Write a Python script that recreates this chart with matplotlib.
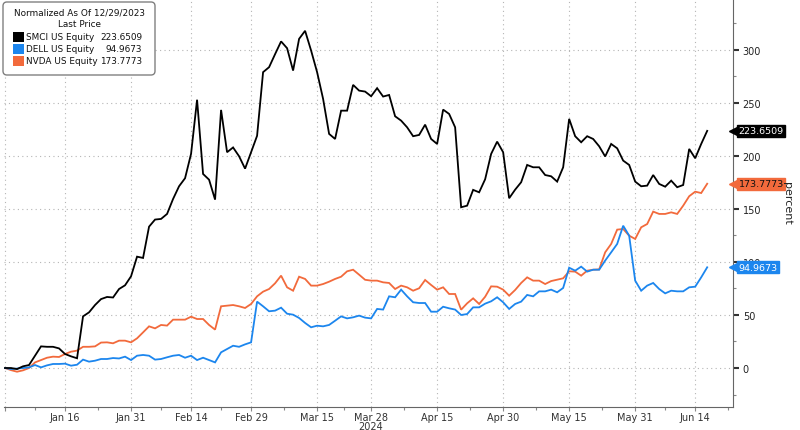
import numpy as np
import pandas as pd
import matplotlib
matplotlib.use('Agg')
import matplotlib.pyplot as plt
import matplotlib.transforms as mtransforms
from matplotlib.patches import FancyBboxPatch, Rectangle
from matplotlib.ticker import MultipleLocator, FixedLocator

# Trading days Dec 29 2023 - Jun 18 2024 (exchange holidays removed)
holidays = ['2024-01-01', '2024-01-15', '2024-02-19', '2024-03-29', '2024-05-27', '2024-06-19']
dates = pd.bdate_range('2023-12-29', '2024-06-18', freq='C', holidays=holidays)

# Normalized price, percent change vs 12/29/2023
smci = [0, 0, -1, 1.6, 2.8, 11.6, 20.4, 20, 20, 18.5,
        13.2, 11, 9.2, 48.7, 52.5, 59.4, 65, 67, 66.5, 74.5,
        78, 86.5, 105, 103.8, 133.3, 140, 140.6, 145.3, 159.4, 171.4,
        179, 202, 253, 183, 177.6, 158.8, 243.4, 203.5, 208, 199.7,
        188, 203.5, 219, 279, 283.7, 296, 308, 301.6, 280.5, 310.4,
        318, 299.4, 279, 253.8, 220.8, 216, 242.7, 242.7, 267, 261.6,
        260.7, 256.3, 263.9, 256, 257.5, 237.4, 233.3, 227, 218.6, 219.8,
        229.5, 216, 211.3, 243.7, 239.6, 227, 151.6, 153.1, 168, 165.7,
        178, 201.9, 213.5, 203.5, 160.1, 168.2, 175.2, 191.5, 189.3, 189.3,
        182, 180.8, 175.8, 189.3, 234.9, 218.6, 212.9, 218.6, 216, 209.1,
        199.5, 211.3, 207.2, 195.6, 191.5, 175.8, 171.4, 172, 182, 173.6,
        171, 176.7, 170.5, 172.6, 206.6, 197.8, 211.3, 223.6509]

dell = [0, -1, -0.5, 0, 0.6, 2.8, 0.6, 2.5, 3.8, 3.8,
        4.1, 2.2, 3.1, 7.9, 6, 6.9, 8.5, 8.5, 9.4, 9,
        10.7, 7.5, 11.6, 12.3, 11.6, 7.9, 8.5, 10.1, 11.6, 12.3,
        9.7, 11.6, 7.5, 9.7, 7.5, 5.3, 14.8, 17.9, 21, 20,
        22.3, 24.2, 62.6, 58.2, 53.5, 54.1, 56.9, 51.2, 50.3, 47.2,
        42.5, 38.4, 39.9, 39.3, 40.6, 44.6, 48.7, 46.8, 47.8, 49.4,
        47.5, 46.8, 55.7, 55.1, 67.6, 66.7, 73.9, 67.6, 62, 61.3,
        61.3, 53.1, 53.1, 57.8, 56.3, 55.1, 50, 50.9, 57.2, 57.2,
        60.7, 62.9, 66.7, 62, 55.7, 60.4, 62.6, 68.9, 67.6, 72.3,
        72.3, 73.9, 71.4, 75.5, 94.6, 91.8, 95.6, 90.9, 92.7, 92.7,
        101.3, 109.1, 117, 134.2, 124.8, 82.4, 72.9, 77.7, 80.2, 74.5,
        70.4, 72.9, 72.3, 72.3, 76.1, 76.7, 85.5, 94.9673]

nvda = [0, -2, -3.5, -2.2, 0, 5.3, 7.5, 9.7, 10.7, 10.4,
        13.2, 15.4, 16.4, 20, 20, 20.4, 24, 24.2, 23.3, 25.8,
        25.8, 24.2, 28, 33.6, 39.3, 37.4, 40.6, 40, 45.6, 45.6,
        45.6, 48.4, 46.2, 46.2, 40.6, 36.2, 58.2, 58.8, 59.4, 58.2,
        56.6, 60.4, 67.6, 72, 74.5, 79.9, 87.1, 76.1, 72.9, 86.1,
        84, 77.7, 77.7, 79.2, 81.4, 84, 86.1, 91.2, 92.7, 88,
        83.2, 82.4, 82.4, 80.8, 80.2, 74.5, 77.7, 76.1, 72.9, 75.2,
        83, 78.3, 73.9, 76.1, 69.8, 69.8, 55, 61, 65.7, 60.4,
        67.2, 77, 76.7, 73.9, 68.2, 73.6, 80.2, 85.5, 82.4, 82.4,
        79.2, 82, 83.3, 84.6, 91.2, 90.9, 87.1, 91.8, 92.7, 93,
        109.1, 117, 130.5, 131.1, 124.8, 121.7, 132.7, 135.8, 147.5, 145.3,
        145.3, 146.8, 145.3, 153.1, 162, 166.3, 165, 173.7773]

names = ['SMCI US Equity', 'DELL US Equity', 'NVDA US Equity']
colors = ['#000000', '#1c86ee', '#f26a3c']
tag_text_colors = ['white', 'white', '#111111']

tick_dates = ['2023-12-29', '2024-01-16', '2024-01-31', '2024-02-14', '2024-02-29', '2024-03-15',
              '2024-03-28', '2024-04-15', '2024-04-30', '2024-05-15', '2024-05-31', '2024-06-14']
tick_labels = ['', 'Jan 16', 'Jan 31', 'Feb 14', 'Feb 29', 'Mar 15',
               'Mar 28', 'Apr 15', 'Apr 30', 'May 15', 'May 31', 'Jun 14']

W, H = 800, 431
fig = plt.figure(figsize=(W / 100, H / 100), dpi=100)
ax = fig.add_axes([4 / W, 1 - 407.5 / H, 729 / W, 407.5 / H])

x = np.arange(len(dates))
series = [smci, dell, nvda]
# draw NVDA first, SMCI on top
for vals, c in zip(series[::-1], colors[::-1]):
    ax.plot(x, vals, color=c, lw=1.3, solid_joinstyle='miter')

ax.set_xlim(-0.17, 121.3)
ax.set_ylim(-36.3, 348)

# x axis in trading-day positions
tick_pos = [dates.get_loc(pd.Timestamp(d)) for d in tick_dates]
ax.xaxis.set_major_locator(FixedLocator(tick_pos))
ax.set_xticklabels(tick_labels)
minor_pos = [(a + b) / 2 for a, b in zip(tick_pos[:-1], tick_pos[1:])] + [tick_pos[-1] + 5.5]
ax.xaxis.set_minor_locator(FixedLocator(minor_pos))

ax.yaxis.tick_right()
ax.yaxis.set_major_locator(FixedLocator(range(0, 301, 50)))
ax.yaxis.set_minor_locator(MultipleLocator(25))

for side in ['left', 'top']:
    ax.spines[side].set_visible(False)
for side in ['right', 'bottom']:
    ax.spines[side].set_color('#666666')
    ax.spines[side].set_linewidth(0.8)

ax.tick_params(axis='x', which='major', direction='out', length=3, width=0.8,
               color='#888888', labelsize=7, labelcolor='#333333', pad=1)
ax.tick_params(axis='x', which='minor', direction='out', length=2, width=0.8, color='#888888')
ax.tick_params(axis='y', which='major', direction='out', length=4, width=1.5,
               color='#333333', labelsize=7, labelcolor='#222222', pad=3)
ax.tick_params(axis='y', which='minor', direction='out', length=2.5, width=0.8, color='#888888')

ax.grid(True, which='major', color='#b5b5b5', linestyle=(0, (1, 3)), linewidth=0.8)
ax.set_axisbelow(True)

# year under the axis
trans_x = mtransforms.blended_transform_factory(ax.transData, ax.transAxes)
ax.text(tick_pos[6], -20 / 407.5, '2024', transform=trans_x, ha='center', va='center',
        fontsize=7, color='#333333')

# last value tags on the right axis
trans_y = mtransforms.blended_transform_factory(ax.transAxes, ax.transData)
for vals, c, tc in zip(series, colors, tag_text_colors):
    last = vals[-1]
    ax.plot([1.0], [last], marker='<', ms=6, color=c, transform=trans_y, clip_on=False, zorder=5)
    ax.annotate(f'{last:.4f}', xy=(1.0, last), xycoords=trans_y, xytext=(4, 0),
                textcoords='offset points', ha='left', va='center', fontsize=6.8, color=tc,
                bbox=dict(boxstyle='square,pad=0.15', fc=c, ec=c), zorder=6, annotation_clip=False)

fig.text(787 / W, 1 - 203 / H, 'percent', rotation=270, ha='center', va='center',
         fontsize=8, color='#222222')

# legend box (pixel layout)
px = mtransforms.IdentityTransform()
box = FancyBboxPatch((3, H - 76), 152, 73, boxstyle='round,pad=0,rounding_size=4',
                     transform=px, fc='white', ec='#808080', lw=1.0, zorder=4)
fig.add_artist(box)
fs_leg = 6.4
fig.text(80, H - 13, 'Normalized As Of 12/29/2023', transform=px, ha='center', va='center',
         fontsize=fs_leg, color='#111111', zorder=5)
fig.text(80, H - 25, 'Last Price', transform=px, ha='center', va='center',
         fontsize=fs_leg, color='#111111', zorder=5)
for k, (name, vals, c) in enumerate(zip(names, series, colors)):
    yc = H - 38 - 12 * k
    fig.add_artist(Rectangle((13, yc - 5), 11, 10, transform=px, fc=c, ec='none', zorder=5))
    fig.text(26, yc, name, transform=px, ha='left', va='center', fontsize=fs_leg,
             color='#111111', zorder=5)
    fig.text(142, yc, f'{vals[-1]:.4f}', transform=px, ha='right', va='center', fontsize=fs_leg,
             color='#111111', zorder=5)

fig.savefig('out.png', dpi=100)
